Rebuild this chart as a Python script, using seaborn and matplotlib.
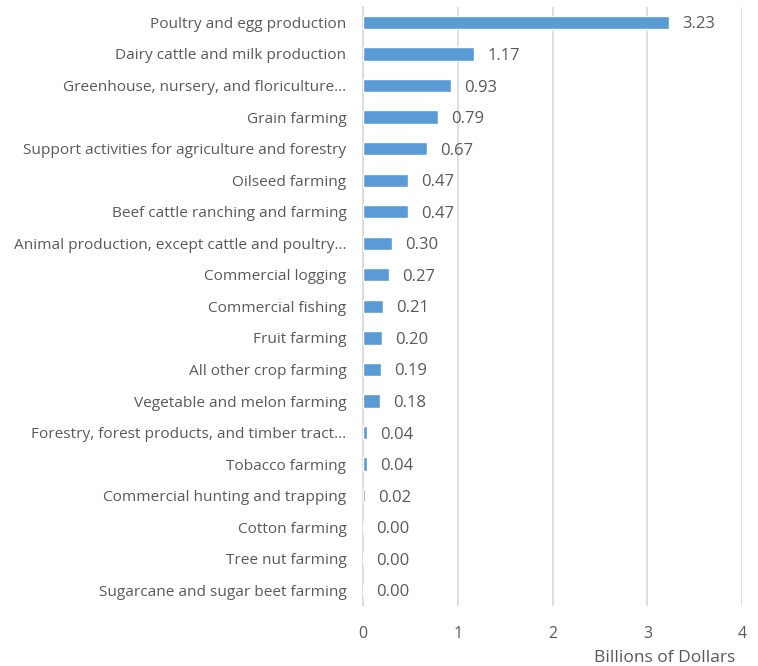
import matplotlib
matplotlib.use("Agg")
import matplotlib.pyplot as plt
import seaborn as sns
import pandas as pd

categories = [
    "Poultry and egg production",
    "Dairy cattle and milk production",
    "Greenhouse, nursery, and floriculture…",
    "Grain farming",
    "Support activities for agriculture and forestry",
    "Oilseed farming",
    "Beef cattle ranching and farming",
    "Animal production, except cattle and poultry…",
    "Commercial logging",
    "Commercial fishing",
    "Fruit farming",
    "All other crop farming",
    "Vegetable and melon farming",
    "Forestry, forest products, and timber tract…",
    "Tobacco farming",
    "Commercial hunting and trapping",
    "Cotton farming",
    "Tree nut farming",
    "Sugarcane and sugar beet farming",
]
values = [3.23, 1.17, 0.93, 0.79, 0.67, 0.47, 0.47, 0.30, 0.27, 0.21,
          0.20, 0.19, 0.18, 0.04, 0.04, 0.02, 0.00, 0.00, 0.00]
x_ticks = [0, 1, 2, 3, 4]
x_label = "Billions of Dollars"

df = pd.DataFrame({"category": categories, "value": values})

sns.set_theme(style="white")
plt.rcParams["font.family"] = ["Open Sans", "DejaVu Sans"]
text_color = "#595959"
grid_color = "#D9D9D9"
bar_color = "#5B9BD5"

fig = plt.figure(figsize=(7.58, 6.66), dpi=100)
ax = fig.add_axes([0.479, 0.090, 0.500, 0.900])

sns.barplot(data=df, x="value", y="category", orient="h", color=bar_color,
            width=0.42, saturation=1, ax=ax, zorder=3)

ax.set_xlim(0, 4)
ax.set_ylim(len(categories) - 0.5, -0.5)
ax.set_xticks(x_ticks)
ax.set_xticklabels([str(t) for t in x_ticks])
ax.xaxis.grid(True, color=grid_color, linewidth=1.2, zorder=0)
ax.yaxis.grid(False)
for side in ["top", "right", "bottom"]:
    ax.spines[side].set_visible(False)
ax.spines["left"].set_color(grid_color)
ax.spines["left"].set_linewidth(1.2)

ax.tick_params(axis="both", length=0, colors=text_color)
ax.tick_params(axis="y", pad=12, labelsize=11.1)
ax.tick_params(axis="x", pad=14, labelsize=11.4)
ax.set_ylabel("")
ax.set_xlabel("")

for i, v in enumerate(values):
    ax.annotate(f"{v:.2f}", xy=(v, i), xytext=(9.5, 0), textcoords="offset points",
                va="center_baseline", ha="left", fontsize=12, color=text_color)

fig.text(0.970, 0.000, x_label, ha="right", va="bottom", fontsize=12.5, color=text_color)

fig.savefig("out.png", dpi=100, facecolor="white")
